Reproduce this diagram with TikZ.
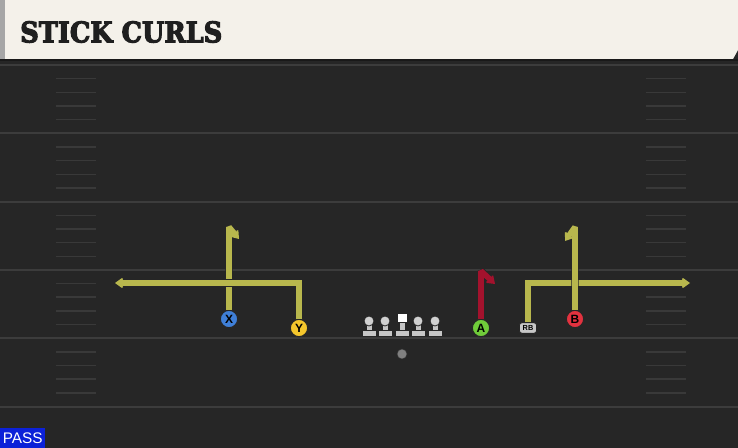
\documentclass[tikz,border=0pt]{standalone}
\usepackage{fontspec}
\setmainfont{Liberation Sans}
\newfontfamily\slabfont[BoldFeatures={FakeBold=4}]{DejaVu Serif}
\usetikzlibrary{arrows.meta}

\definecolor{fieldgrey}{HTML}{262626}
\definecolor{yardgrey}{HTML}{3C3C3C}
\definecolor{hashgrey}{HTML}{393939}
\definecolor{headcream}{HTML}{F4F1EA}
\definecolor{routeyel}{HTML}{B8B74D}
\definecolor{routered}{HTML}{A3122D}
\definecolor{xblue}{HTML}{3F7FD8}
\definecolor{yyellow}{HTML}{F4C62C}
\definecolor{agreen}{HTML}{70CC3A}
\definecolor{bred}{HTML}{E2323F}
\definecolor{lmgrey}{HTML}{C6C6C6}
\definecolor{passblue}{HTML}{0C21D8}

\tikzset{
  player/.style={circle, draw=black!85, line width=0.8pt, minimum size=13pt, inner sep=0pt, font=\fontsize{9}{9}\selectfont\bfseries},
  rbbox/.style={draw=black!85, fill=black!22, line width=0.7pt, rounded corners=2pt, minimum width=13pt, minimum height=8pt, inner sep=0pt, font=\fontsize{5.5}{5.5}\selectfont\bfseries},
  route/.style={line width=4.2pt, miter limit=2, preaction={draw=black!85, line width=5.6pt, miter limit=2}},
  routetip/.style={-{Stealth[length=7pt,width=10pt,inset=2.5pt]}},
  yardline/.style={yardgrey, line width=1.5pt},
  hashmark/.style={hashgrey, line width=1.1pt},
}

\begin{document}
\begin{tikzpicture}[x=0.75pt,y=0.75pt,yscale=-1,xscale=1]
\useasboundingbox (0,0) rectangle (738,448);

%Shape: Field
\fill[fieldgrey] (0,0) rectangle (738,448);
%Yard lines
\foreach \k in {0,...,5}
  \draw[yardline] (0,65+68.3*\k) -- (738,65+68.3*\k);
%Hash marks
\foreach \k in {0,...,4}
  \foreach \h in {1,...,4} {
    \draw[hashmark] (56,65+68.3*\k+13.66*\h) -- (96,65+68.3*\k+13.66*\h);
    \draw[hashmark] (646,65+68.3*\k+13.66*\h) -- (686,65+68.3*\k+13.66*\h);
  }

%Shape: Header
\fill[headcream] (0,0) -- (738,0) -- (738,50) -- (733,59) -- (0,59) -- cycle;
\fill[black!35] (0,0) rectangle (5,59);
\draw[black!90, line width=1.5pt] (0,60.5) -- (738,60.5);

% Text Node
\node[anchor=south west, inner sep=0pt, text=black!88] (title) at (20,43) {\resizebox{151.5pt}{15.8pt}{\slabfont\bfseries STICK CURLS}};

%Shape: Linemen
\foreach \lx in {369,385,418,435} {
  \filldraw[fill=lmgrey, draw=black!85, line width=0.6pt] (\lx-7,330) rectangle (\lx+7,336);
  \filldraw[fill=lmgrey, draw=black!85, line width=0.6pt] (\lx-3,324) rectangle (\lx+3,330);
  \filldraw[fill=lmgrey!80!white, draw=black!85, line width=0.6pt] (\lx,321) circle (5);
}
\filldraw[fill=lmgrey, draw=black!85, line width=0.6pt] (395,330) rectangle (409,336);
\filldraw[fill=lmgrey, draw=black!85, line width=0.6pt] (399,321) rectangle (405,330);
\filldraw[fill=white, draw=black!85, line width=0.6pt] (397,313) rectangle (407,322);

% Players
\node[circle, fill=black!50, draw=black!80, minimum size=7.5pt, inner sep=0pt] (QB) at (402,354) {};
\node[player, fill=xblue] (X) at (229,319) {X};
\node[player, fill=yyellow] (Y) at (299,328) {Y};
\node[player, fill=agreen] (A) at (481,328) {A};
\node[player, fill=bred] (B) at (575,319) {B};
\node[rbbox] (RB) at (528,328) {RB};

% Route points
\coordinate (xtop) at (229,227);
\coordinate (xcurl) at (239,239);
\coordinate (ycorner) at (299,283);
\coordinate (yend) at (115,283);
\coordinate (atop) at (481,271);
\coordinate (acurl) at (495,284);
\coordinate (rbcorner) at (528,283);
\coordinate (rbend) at (690,283);
\coordinate (btop) at (575,227);
\coordinate (bcurl) at (565,241);

% Routes
\draw[route, routeyel, routetip] (X.north) -- (xtop) -- (xcurl);
\draw[route, routeyel, routetip] (Y.north) -- (ycorner) -- (yend);
\draw[route, routered, routetip] (A.north) -- (atop) -- (acurl);
\draw[route, routeyel, routetip] (RB.north) -- (rbcorner) -- (rbend);
\draw[route, routeyel, routetip] (B.north) -- (btop) -- (bcurl);

% Text Node
\node[fill=passblue, text=white, anchor=south west, inner sep=0pt, minimum width=33.75pt, minimum height=15pt] (play) at (0,448) {\fontsize{11.5}{11.5}\selectfont PASS};

\end{tikzpicture}
\end{document}
